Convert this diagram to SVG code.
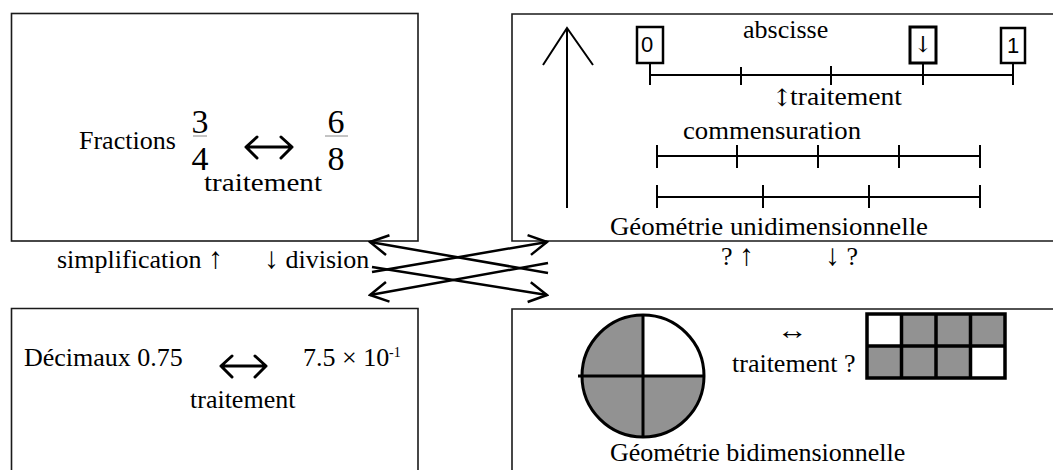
<svg xmlns="http://www.w3.org/2000/svg" width="1053" height="470" viewBox="0 0 1053 470">
<style>
.bx{fill:none;stroke:#1a1a1a;stroke-width:1.6}
.t{font-family:"Liberation Serif","Times New Roman",serif;font-size:26px;fill:#000}
.num{font-size:34px}
.sup{font-size:14px}
.sans{font-family:"Liberation Sans",Arial,sans-serif;font-size:22px}
.arr{font-family:"DejaVu Serif","DejaVu Sans",serif;fill:#000}
.ax{stroke:#000;stroke-width:2;fill:none}
.big{stroke:#000;stroke-width:3;fill:none;stroke-linecap:round;stroke-linejoin:round}
.conn{stroke:#000;stroke-width:2.5;fill:none}
.grey{fill:#929292}
.bar{stroke:#888;stroke-width:1}
</style>
<defs>
<marker id="ah" markerUnits="userSpaceOnUse" viewBox="-22 -14 24 28" refX="0" refY="0" markerWidth="24" markerHeight="28" orient="auto-start-reverse">
<path d="M-18,-10 L0,0 L-18,10" fill="none" stroke="#000" stroke-width="2.5" stroke-linejoin="miter"/>
</marker>
</defs>

<g id="fractions">
<rect class="bx" x="11.5" y="13.5" width="406.5" height="227.5"/>
<text class="t" x="79" y="149">Fractions</text>
<text class="t num" x="200" y="133" text-anchor="middle">3</text>
<line class="bar" x1="193" y1="136" x2="207" y2="136"/>
<text class="t num" x="200" y="170" text-anchor="middle">4</text>
<path class="big" d="M246,147 H292 M257,137 L246,147 L257,158 M281,137 L292,147 L281,158"/>
<text class="t num" x="336" y="133" text-anchor="middle">6</text>
<line class="bar" x1="325" y1="136" x2="348" y2="136"/>
<text class="t num" x="336" y="170" text-anchor="middle">8</text>
<text class="t" x="204" y="191" textLength="118" lengthAdjust="spacingAndGlyphs">traitement</text>
</g>

<g id="geometrie-1d">
<path class="bx" d="M1053,14 H512 V241 H1053"/>
<path class="ax" d="M567,208 V28 M543,65 L567,28 L593,65"/>
<rect x="637" y="27" width="26" height="36" fill="none" stroke="#000" stroke-width="2.5"/>
<text class="sans" x="641" y="52">0</text>
<text class="t" x="743" y="38">abscisse</text>
<rect x="910" y="27" width="26" height="36" fill="none" stroke="#000" stroke-width="3"/>
<text class="arr" x="923" y="52" font-size="22" text-anchor="middle">↓</text>
<rect x="1001" y="28" width="24" height="35" fill="none" stroke="#000" stroke-width="2.5"/>
<text class="sans" x="1013" y="53" text-anchor="middle">1</text>
<path class="ax" d="M650,75 H1013 M650,63 V85 M741,67 V85 M831,66 V85 M923,63 V85 M1013,63 V85"/>
<text class="arr" x="782" y="106" font-size="24" text-anchor="middle">↕</text>
<text class="t" x="790" y="105" textLength="112" lengthAdjust="spacingAndGlyphs">traitement</text>
<text class="t" x="683" y="139" textLength="178" lengthAdjust="spacingAndGlyphs">commensuration</text>
<path class="ax" d="M657,156 H980 M657,145 V168 M737,145 V168 M818,145 V168 M899,145 V168 M980,145 V168"/>
<path class="ax" d="M657,197 H980 M657,185 V208 M763,185 V208 M869,185 V208 M980,185 V208"/>
<text class="t" x="610" y="235" textLength="318" lengthAdjust="spacingAndGlyphs">Géométrie unidimensionnelle</text>
</g>

<g id="decimaux">
<path class="bx" d="M11.5,470 V308.5 H418 V470"/>
<text class="t" x="24" y="366">Décimaux 0.75</text>
<path class="big" d="M221,366 H266 M232,356 L221,366 L232,377 M255,356 L266,366 L255,377"/>
<text class="t" x="303" y="366">7.5 × 10</text>
<text class="t sup" x="389" y="357">-1</text>
<text class="t" x="190" y="408">traitement</text>
</g>

<g id="geometrie-2d">
<path class="bx" d="M1053,309 H512 V470"/>
<path class="grey" d="M643,376 L582,376 A61,61 0 0 1 643,315 Z"/>
<path class="grey" d="M582,376 A61,61 0 0 0 704,376 Z"/>
<circle cx="643" cy="376" r="61" fill="none" stroke="#000" stroke-width="3"/>
<path d="M578,376 H704 M643,315 V437" stroke="#000" stroke-width="3"/>
<text class="t" x="777" y="339" textLength="31" lengthAdjust="spacingAndGlyphs">↔</text>
<text class="t" x="732" y="372">traitement ?</text>
<rect class="grey" x="901.5" y="314" width="103.5" height="32"/>
<rect class="grey" x="867" y="346" width="103.5" height="32"/>
<path d="M867,314 H1005 V378 H867 Z M867,346 H1005 M901.5,314 V378 M936,314 V378 M970.5,314 V378" fill="none" stroke="#000" stroke-width="3.5"/>
<text class="t" x="610" y="461">Géométrie bidimensionnelle</text>
</g>

<g id="connectors">
<line class="conn" x1="370" y1="242" x2="548" y2="273" marker-start="url(#ah)"/>
<line class="conn" x1="547" y1="242" x2="372" y2="272" marker-start="url(#ah)"/>
<line class="conn" x1="372" y1="267" x2="547" y2="295" marker-end="url(#ah)"/>
<line class="conn" x1="370" y1="295" x2="548" y2="263" marker-start="url(#ah)"/>
<text class="t" x="57" y="268">simplification <tspan font-size="30">↑</tspan></text>
<text class="t" x="264" y="268"><tspan font-size="30">↓</tspan> division</text>
<text class="t" x="721" y="265">? <tspan font-size="30">↑</tspan></text>
<text class="t" x="825" y="265"><tspan font-size="30">↓</tspan> ?</text>
</g>
</svg>
